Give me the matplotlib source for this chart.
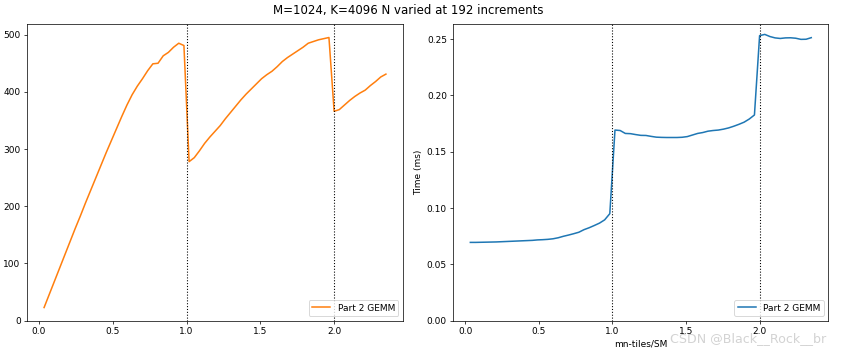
import numpy as np
from matplotlib import pyplot as plt

# N = 192*k, k = 1..67 ; x axis = mn-tiles per SM
k = np.arange(1, 68)
tilesPerSM = k * 4 / 114

# left panel (orange)
perf = [23, 46, 69, 92, 115, 138, 161, 183, 206, 228,
        250, 272, 294, 315, 336, 357, 377, 395, 410, 423,
        437, 449, 450, 463, 469, 478, 485, 481,
        278, 285, 297, 310, 321, 331, 341, 353, 364, 375,
        386, 396, 405, 414, 423, 430, 436, 444, 453, 460,
        466, 472, 478, 485, 488, 491, 493, 495,
        366, 369, 377, 385, 392, 398, 403, 411, 418, 426, 431]

# right panel (blue), time in ms
timesMs = [0.0695, 0.0695, 0.0696, 0.0697, 0.0698, 0.0699, 0.0701, 0.0703, 0.0705, 0.0707,
           0.0709, 0.0711, 0.0713, 0.0717, 0.0719, 0.0722, 0.0727, 0.0736, 0.0749, 0.0760,
           0.0772, 0.0785, 0.0808, 0.0825, 0.0845, 0.0866, 0.0895, 0.0950,
           0.1692, 0.1688, 0.1662, 0.1660, 0.1652, 0.1645, 0.1644, 0.1636, 0.1629, 0.1627,
           0.1626, 0.1626, 0.1626, 0.1628, 0.1634, 0.1648, 0.1662, 0.1670, 0.1682, 0.1688,
           0.1692, 0.1700, 0.1711, 0.1726, 0.1743, 0.1762, 0.1790, 0.1826,
           0.2530, 0.2541, 0.2522, 0.2510, 0.2505, 0.2510, 0.2511, 0.2507, 0.2497, 0.2498, 0.2512]

waves = [1, 2]
xticks = [0.0, 0.5, 1.0, 1.5, 2.0]

DPI = 65
fig = plt.figure(figsize=(841 / DPI, 353 / DPI), dpi=DPI)
ax1 = fig.add_axes([0.0321, 0.0915, 0.4471, 0.8405])
ax2 = fig.add_axes([0.539, 0.0915, 0.4459, 0.8405])

ax1.plot(tilesPerSM, perf, color='C1', lw=1.7, label='Part 2 GEMM')
ax1.set_ylim(bottom=0)
for w in waves:
    ax1.axvline(w, color='k', ls=':', lw=1.2)
ax1.set_xticks(xticks)
ax1.legend(loc='lower right')

ax2.plot(tilesPerSM, timesMs, color='C0', lw=1.7, label='Part 2 GEMM')
ax2.set_ylim(bottom=0)
for w in waves:
    ax2.axvline(w, color='k', ls=':', lw=1.2)
ax2.set_xticks(xticks)
ax2.set_xlabel('mn-tiles/SM')
ax2.set_ylabel('Time (ms)')
ax2.legend(loc='lower right')

fig.suptitle('M=1024, K=4096 N varied at 192 increments', x=0.485, y=0.99, fontsize=13)
fig.text(0.983, 0.042, 'CSDN @Black__Rock__br', ha='right', va='center',
         fontsize=14, color='#c8c8c8', alpha=0.8)

fig.savefig('out.png', dpi=DPI)
